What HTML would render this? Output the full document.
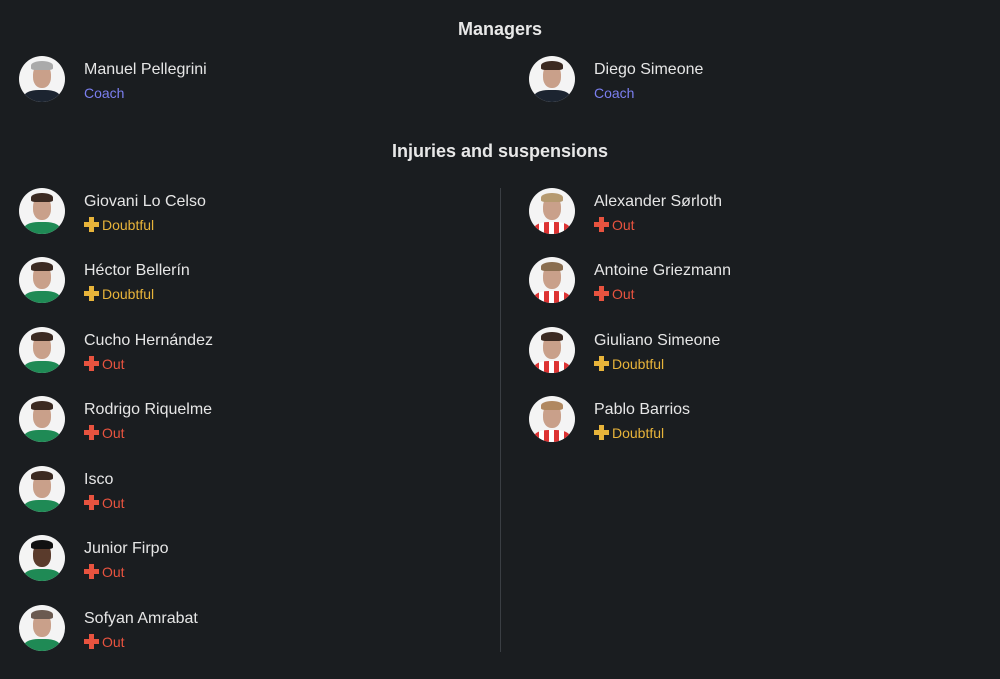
<!DOCTYPE html>
<html><head><style>
body{margin:0;width:1000px;height:679px;background:#1a1d20;font-family:"Liberation Sans",sans-serif;color:#e6e6e6;position:relative;overflow:hidden}
.h{position:absolute;left:0;width:1000px;text-align:center;font-weight:bold;font-size:18px;color:#e8e8e8}
.p{position:absolute;height:48px}
.av{position:absolute;left:0;top:0;width:46px;height:46px;border-radius:50%;background:#f4f4f4;overflow:hidden}
.av .face{position:absolute;left:14px;top:8px;width:18px;height:24px;border-radius:45%;background:#c9a08a}
.av .hair{position:absolute;left:12px;top:5px;width:22px;height:9px;border-radius:50% 50% 20% 20%;background:#3b2a22}
.av .sh{position:absolute;left:5px;top:34px;width:36px;height:16px;border-radius:40% 40% 0 0;background:#1f8a55}
.av .sh.r{background:repeating-linear-gradient(90deg,#d33 0 5px,#fff 5px 10px)}
.av .sh.d{background:#1c2430}
.n{position:absolute;left:65px;top:5px;font-size:16px;white-space:nowrap;color:#e6e6e6}
.s{position:absolute;left:65px;top:29px;font-size:14px;white-space:nowrap}
.coach{color:#7b7ff0}
.dbt{color:#e8b43a}.out{color:#e8533f}
.cross{display:inline-block;position:relative;width:15px;height:15px;vertical-align:-2px;margin-right:3px}
.cross:before{content:"";position:absolute;left:5px;top:0;width:5px;height:15px;background:currentColor}
.cross:after{content:"";position:absolute;left:0;top:5px;width:15px;height:5px;background:currentColor}
.div{position:absolute;left:500px;top:188px;width:1px;height:464px;background:#3a3e43}
</style></head><body>
<div class="h" style="top:19px">Managers</div>
<div class="p" style="left:19px;top:56px"><div class="av"><div class="face"></div><div class="hair" style="background:#aaa"></div><div class="sh d"></div></div><div class="n">Manuel Pellegrini</div><div class="s coach">Coach</div></div>
<div class="p" style="left:529px;top:56px"><div class="av"><div class="face"></div><div class="hair"></div><div class="sh d"></div></div><div class="n">Diego Simeone</div><div class="s coach">Coach</div></div>
<div class="h" style="top:141px">Injuries and suspensions</div>
<div class="div"></div>

<div class="p" style="left:19px;top:188px"><div class="av"><div class="face"></div><div class="hair"></div><div class="sh"></div></div><div class="n">Giovani Lo Celso</div><div class="s dbt"><span class="cross"></span>Doubtful</div></div>
<div class="p" style="left:19px;top:257px"><div class="av"><div class="face"></div><div class="hair"></div><div class="sh"></div></div><div class="n">Héctor Bellerín</div><div class="s dbt"><span class="cross"></span>Doubtful</div></div>
<div class="p" style="left:19px;top:327px"><div class="av"><div class="face"></div><div class="hair"></div><div class="sh"></div></div><div class="n">Cucho Hernández</div><div class="s out"><span class="cross"></span>Out</div></div>
<div class="p" style="left:19px;top:396px"><div class="av"><div class="face"></div><div class="hair"></div><div class="sh"></div></div><div class="n">Rodrigo Riquelme</div><div class="s out"><span class="cross"></span>Out</div></div>
<div class="p" style="left:19px;top:466px"><div class="av"><div class="face"></div><div class="hair"></div><div class="sh"></div></div><div class="n">Isco</div><div class="s out"><span class="cross"></span>Out</div></div>
<div class="p" style="left:19px;top:535px"><div class="av"><div class="face" style="background:#5a3b2c"></div><div class="hair" style="background:#111"></div><div class="sh"></div></div><div class="n">Junior Firpo</div><div class="s out"><span class="cross"></span>Out</div></div>
<div class="p" style="left:19px;top:605px"><div class="av"><div class="face"></div><div class="hair" style="background:#6b5a50"></div><div class="sh"></div></div><div class="n">Sofyan Amrabat</div><div class="s out"><span class="cross"></span>Out</div></div>

<div class="p" style="left:529px;top:188px"><div class="av"><div class="face"></div><div class="hair" style="background:#b59a70"></div><div class="sh r"></div></div><div class="n">Alexander Sørloth</div><div class="s out"><span class="cross"></span>Out</div></div>
<div class="p" style="left:529px;top:257px"><div class="av"><div class="face"></div><div class="hair" style="background:#8a6e50"></div><div class="sh r"></div></div><div class="n">Antoine Griezmann</div><div class="s out"><span class="cross"></span>Out</div></div>
<div class="p" style="left:529px;top:327px"><div class="av"><div class="face"></div><div class="hair"></div><div class="sh r"></div></div><div class="n">Giuliano Simeone</div><div class="s dbt"><span class="cross"></span>Doubtful</div></div>
<div class="p" style="left:529px;top:396px"><div class="av"><div class="face"></div><div class="hair" style="background:#b08860"></div><div class="sh r"></div></div><div class="n">Pablo Barrios</div><div class="s dbt"><span class="cross"></span>Doubtful</div></div>
</body></html>
